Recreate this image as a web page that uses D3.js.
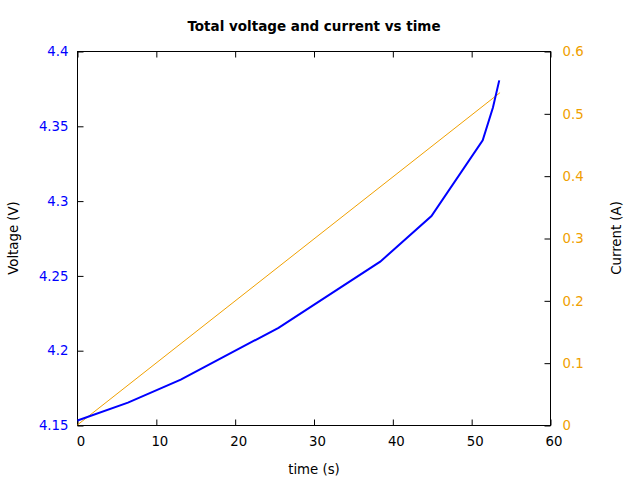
<!DOCTYPE html>
<html><head><meta charset="utf-8">
<script src="https://cdn.jsdelivr.net/npm/d3@7"></script>
<style>body{margin:0;background:#fff}svg{display:block}text{font-family:"DejaVu Sans",sans-serif}</style>
</head><body>
<svg id="c" width="640" height="480"></svg>
<script>
const timeV = [0, 6.4, 13.1, 25.5, 38.4, 44.9, 51.4, 52.7, 53.5];
const voltage = [4.1533, 4.1653, 4.1807, 4.2153, 4.2595, 4.29, 4.3407, 4.3625, 4.3807];
const timeI = [0, 53.6];
const current = [0.001, 0.534];
const xTicks = [0, 10, 20, 30, 40, 50, 60];
const yTicks = [4.15, 4.2, 4.25, 4.3, 4.35, 4.4];
const y2Ticks = [0, 0.1, 0.2, 0.3, 0.4, 0.5, 0.6];

const svg = d3.select("#c");
const L = 77.5, R = 550.5, T = 51.5, B = 425.5;
const x = d3.scaleLinear().domain([0, 60]).range([L, R]);
const y = d3.scaleLinear().domain([4.15, 4.4]).range([B, T]);
const y2 = d3.scaleLinear().domain([0, 0.6]).range([B, T]);
const FS = "13.3px";

svg.append("rect").attr("x", L).attr("y", T).attr("width", R - L).attr("height", B - T)
  .attr("fill", "none").attr("stroke", "#000").attr("stroke-width", 1);

const fmtY = d => +d.toFixed(2);
const gx = svg.append("g").attr("transform", `translate(0,${B})`)
  .call(d3.axisBottom(x).tickValues(xTicks).tickSizeInner(-6).tickSizeOuter(0).tickPadding(11));
gx.selectAll("text").attr("fill", "#000").style("font-size", FS).attr("dx", 3);
const gxt = svg.append("g").attr("transform", `translate(0,${T})`)
  .call(d3.axisTop(x).tickValues(xTicks).tickSizeInner(-6).tickSizeOuter(0).tickFormat(""));
const gy = svg.append("g").attr("transform", `translate(${L},0)`)
  .call(d3.axisLeft(y).tickValues(yTicks).tickSizeInner(-6).tickSizeOuter(0).tickPadding(9).tickFormat(fmtY));
gy.selectAll("text").attr("fill", "#0000ff").style("font-size", FS);
const gy2 = svg.append("g").attr("transform", `translate(${R},0)`)
  .call(d3.axisRight(y2).tickValues(y2Ticks).tickSizeInner(-6).tickSizeOuter(0).tickPadding(12).tickFormat(d => +d.toFixed(1)));
gy2.selectAll("text").attr("fill", "#f0a000").style("font-size", FS);
[gx, gxt, gy, gy2].forEach(g => { g.select(".domain").remove(); g.selectAll("line").attr("stroke", "#000"); });

svg.append("path").datum(timeI.map((t, i) => [t, current[i]]))
  .attr("fill", "none").attr("stroke", "#f0a000").attr("stroke-width", 1)
  .attr("d", d3.line().x(d => x(d[0])).y(d => y2(d[1])));
svg.append("path").datum(timeV.map((t, i) => [t, voltage[i]]))
  .attr("fill", "none").attr("stroke", "#0000ff").attr("stroke-width", 2)
  .attr("d", d3.line().x(d => x(d[0])).y(d => y(d[1])));

svg.append("text").attr("x", 314).attr("y", 31).attr("text-anchor", "middle")
  .style("font-size", "13.5px").style("font-weight", "bold").text("Total voltage and current vs time");
svg.append("text").attr("x", 314).attr("y", 474).attr("text-anchor", "middle")
  .style("font-size", FS).text("time (s)");
svg.append("text").attr("transform", "translate(18,238) rotate(-90)").attr("text-anchor", "middle")
  .style("font-size", FS).text("Voltage (V)");
svg.append("text").attr("transform", "translate(621,238) rotate(-90)").attr("text-anchor", "middle")
  .style("font-size", FS).text("Current (A)");
</script>
</body></html>
